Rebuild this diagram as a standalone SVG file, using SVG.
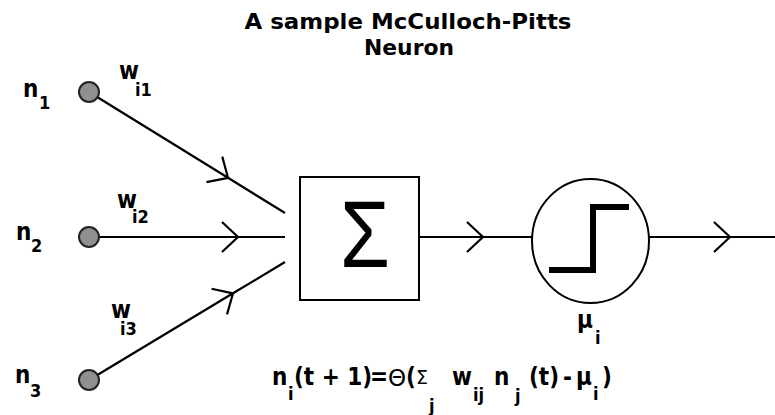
<svg xmlns="http://www.w3.org/2000/svg" width="775" height="415" viewBox="0 0 775 415">
<style>
.t{font-family:"DejaVu Sans Condensed","DejaVu Sans",sans-serif;font-stretch:condensed;font-weight:bold;font-size:24px;fill:#000}
.s{font-size:18px}
.ttl{font-family:"DejaVu Sans Condensed","DejaVu Sans",sans-serif;font-stretch:condensed;font-weight:bold;font-size:22px;fill:#000}
.ln{stroke:#000;stroke-width:2.2;fill:none}
.dot{fill:#8f8f8f;stroke:#222;stroke-width:2}
.g{font-family:"DejaVu Sans",sans-serif;font-weight:normal;font-stretch:normal}
</style>
<defs>
<marker id="chev" markerUnits="userSpaceOnUse" orient="auto" refX="0" refY="0" markerWidth="40" markerHeight="40" overflow="visible">
<path d="M-16,-15 L0,0 L-16,15" fill="none" stroke="#000" stroke-width="2.2"/>
</marker>
</defs>
<rect x="0" y="0" width="775" height="415" fill="#fff"/>
<g id="title">
<text class="ttl" x="408" y="29" text-anchor="middle" textLength="327" lengthAdjust="spacingAndGlyphs">A sample McCulloch-Pitts</text>
<text class="ttl" x="409" y="55" text-anchor="middle" textLength="90" lengthAdjust="spacingAndGlyphs">Neuron</text>
</g>
<g id="connectors">
<path class="ln" d="M89,92 L228,177.8 L285,213" marker-mid="url(#chev)"/>
<path class="ln" d="M89,237 L238,237 L285,237" marker-mid="url(#chev)"/>
<path class="ln" d="M89,380 L233,293.3 L285,262" marker-mid="url(#chev)"/>
<path class="ln" d="M419,237 L483,237 L532,237" marker-mid="url(#chev)"/>
<path class="ln" d="M649,237 L730,237 L775,237" marker-mid="url(#chev)"/>
</g>
<g id="n1">
<circle class="dot" cx="89" cy="92" r="10"/>
<text class="t" x="23" y="97">n<tspan class="s" x="39" y="109">1</tspan></text>
<text class="t" x="119" y="79">w<tspan class="s" x="135" y="96">i1</tspan></text>
</g>
<g id="n2">
<circle class="dot" cx="89" cy="237" r="10"/>
<text class="t" x="16" y="240">n<tspan class="s" x="31" y="252">2</tspan></text>
<text class="t" x="117" y="208">w<tspan class="s" x="132" y="223">i2</tspan></text>
</g>
<g id="n3">
<circle class="dot" cx="89" cy="380" r="10"/>
<text class="t" x="15" y="383">n<tspan class="s" x="30" y="397">3</tspan></text>
<text class="t" x="111" y="318">w<tspan class="s" x="120" y="335">i3</tspan></text>
</g>
<g id="sum">
<rect x="300" y="177" width="119" height="123" fill="#fff" stroke="#000" stroke-width="2"/>
<text transform="translate(365,267) scale(0.85,1)" x="0" y="0" text-anchor="middle" style="font-family:'Liberation Sans',sans-serif;font-size:95px;fill:#000">Σ</text>
</g>
<g id="threshold">
<ellipse cx="590.5" cy="241" rx="58.5" ry="62" fill="#fff" stroke="#000" stroke-width="2"/>
<polyline points="549,270 593,270 593,207 629,207" fill="none" stroke="#000" stroke-width="6"/>
<text class="t" x="577" y="328">μ<tspan class="s" x="595" y="344">i</tspan></text>
</g>
<g id="formula">
<text class="t" x="272" y="385">n<tspan class="s" x="288" y="400">i</tspan><tspan x="294" y="385">(t + 1)</tspan><tspan x="370" y="385">=</tspan><tspan class="g" x="388" y="386" style="font-size:23px">Θ</tspan><tspan x="406" y="385">(</tspan><tspan class="g" x="416" y="384" style="font-size:19px">Σ</tspan><tspan class="s" x="429" y="412">j</tspan><tspan x="452" y="385">w</tspan><tspan class="s" x="473" y="401">ij</tspan><tspan x="494" y="385">n</tspan><tspan class="s" x="515" y="402">j</tspan><tspan x="529" y="385">(t)</tspan><tspan x="563" y="385">-</tspan><tspan x="576" y="385">μ</tspan><tspan class="s" x="593" y="400">i</tspan><tspan x="602" y="385">)</tspan></text>
</g>
</svg>
